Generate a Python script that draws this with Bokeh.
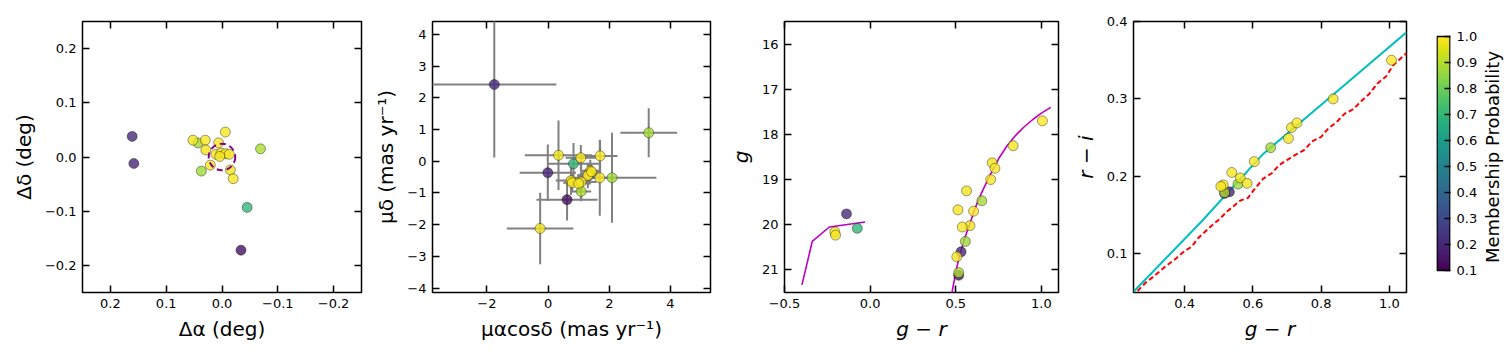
import numpy as np
from bokeh.plotting import figure
from bokeh.layouts import row
from bokeh.models import (ColumnDataSource, LinearColorMapper, Range1d, FixedTicker,
                          LinearAxis, CustomJSTickFormatter)
from bokeh.palettes import Viridis256
from bokeh.embed import file_html
from bokeh.resources import INLINE

# ---------------- data (one entry per star) ----------------
d_ra = [0.161, 0.158, -0.034, -0.045, 0.043, 0.037, -0.069,
        0.052, 0.030, 0.006, -0.006, 0.029, 0.011, 0.002, -0.006, -0.013, 0.021, -0.015, -0.020, 0.004]
d_dec = [0.038, -0.012, -0.172, -0.093, 0.026, -0.026, 0.015,
         0.031, 0.031, 0.026, 0.046, 0.013, 0.005, 0.007, 0.006, 0.005, -0.015, -0.024, -0.040, 0.001]
pmra = [-1.76, -0.01, 0.62, 0.83, 3.29, 2.09, 1.08,
        0.34, 1.07, 1.70, 1.38, 1.34, 1.30, 1.69, 0.75, 0.79, 1.08, -0.26, 1.00, 1.42]
pmdec = [2.42, -0.36, -1.21, -0.08, 0.90, -0.52, -0.95,
         0.19, 0.11, 0.17, -0.30, -0.40, -0.45, -0.52, -0.61, -0.68, -0.65, -2.12, -0.70, -0.33]
pmra_err = [2.03, 0.92, 1.00, 0.85, 0.93, 1.45, 0.33,
            1.10, 0.50, 0.57, 0.30, 0.30, 0.35, 0.50, 0.50, 0.30, 0.50, 1.09, 0.40, 0.30]
pmdec_err = [2.30, 0.89, 0.66, 0.66, 0.77, 1.42, 0.31,
             1.10, 0.40, 0.50, 0.35, 0.30, 0.40, 1.20, 0.45, 0.30, 0.60, 1.13, 0.30, 0.25]
g_mag = [19.76, 20.60, 21.12, 20.08, 19.47, 20.37, 21.06,
         20.16, 20.23, 17.70, 18.25, 18.63, 18.75, 19.00, 19.25, 19.67, 19.70, 20.02, 20.05, 20.71]
g_r = [-0.138, 0.531, 0.517, -0.075, 0.652, 0.556, 0.517,
       -0.206, -0.202, 1.006, 0.835, 0.713, 0.729, 0.704, 0.563, 0.513, 0.604, 0.583, 0.538, 0.506]
r_i = [float("nan"), 0.180, 0.178, float("nan"), 0.237, 0.190, 0.179,
       float("nan"), float("nan"), 0.350, 0.300, 0.263, 0.269, 0.249, 0.198, 0.189, 0.219, 0.191, 0.205, 0.187]
prob = [0.21, 0.20, 0.14, 0.70, 0.88, 0.87, 0.89,
        0.98, 0.99, 1.00, 0.99, 0.98, 1.00, 0.99, 0.98, 0.99, 1.00, 0.98, 0.99, 0.99]

# half-light radius circle (deg)
r_half = 0.0245

# isochrone branches (g-r, g)
iso_hb_gr = [-0.398, -0.338, -0.238, -0.029]
iso_hb_g = [21.33, 20.37, 20.05, 19.94]
iso_rgb_gr = [0.470, 0.478, 0.500, 0.520, 0.550, 0.583, 0.610, 0.650, 0.700, 0.750,
              0.800, 0.850, 0.900, 0.950, 1.000, 1.055]
iso_rgb_g = [21.70, 21.50, 21.05, 20.72, 20.32, 19.98, 19.66, 19.30, 18.90, 18.54,
             18.25, 18.02, 17.83, 17.67, 17.53, 17.40]

# colour-colour loci (g-r, r-i)
locus_cyan_gr = [0.250, 0.450, 0.630, 0.834, 1.050]
locus_cyan_ri = [0.051, 0.142, 0.229, 0.305, 0.386]
locus_red_gr = [0.262, 0.286, 0.310, 0.339, 0.372, 0.401, 0.420, 0.439, 0.478, 0.500, 0.525,
                0.564, 0.585, 0.602, 0.630, 0.655, 0.678, 0.725, 0.750, 0.773, 0.800, 0.821,
                0.845, 0.869, 0.895, 0.917, 0.940, 0.965, 0.990, 1.012, 1.050]
locus_red_ri = [0.052, 0.063, 0.071, 0.082, 0.093, 0.104, 0.109, 0.120, 0.136, 0.144, 0.155,
                0.169, 0.172, 0.182, 0.197, 0.204, 0.215, 0.228, 0.234, 0.245, 0.251, 0.262,
                0.270, 0.281, 0.287, 0.297, 0.306, 0.320, 0.329, 0.344, 0.359]

# ticks
ticks_deg = [-0.2, -0.1, 0.0, 0.1, 0.2]
ticks_pmx = [-2, 0, 2, 4]
ticks_pmy = [-4, -3, -2, -1, 0, 1, 2, 3, 4]
ticks_cmd_x = [-0.5, 0.0, 0.5, 1.0]
ticks_cmd_y = [16, 17, 18, 19, 20, 21]
ticks_cc_x = [0.4, 0.6, 0.8, 1.0]
ticks_cc_y = [0.1, 0.2, 0.3, 0.4]
ticks_cbar = [0.1, 0.2, 0.3, 0.4, 0.5, 0.6, 0.7, 0.8, 0.9, 1.0]
prob_low, prob_high = 0.1, 1.0

# ---------------- plotting ----------------
FONT = "DejaVu Sans"
H = 350
TOP = 21
BOTTOM = H - 292
mapper = LinearColorMapper(palette=Viridis256, low=prob_low, high=prob_high)

pmra_a = np.array(pmra)
pmdec_a = np.array(pmdec)
src = ColumnDataSource(dict(
    ra=d_ra, dec=d_dec, pmra=pmra, pmdec=pmdec,
    pmra_lo=pmra_a - np.array(pmra_err), pmra_hi=pmra_a + np.array(pmra_err),
    pmdec_lo=pmdec_a - np.array(pmdec_err), pmdec_hi=pmdec_a + np.array(pmdec_err),
    g=g_mag, gr=g_r, ri=r_i, prob=prob))


def fmt(n):
    return CustomJSTickFormatter(code="return tick.toFixed(%d).replace('-', '\u2212');" % n)


def style_axis(ax, ticks, decimals, label="", italic=False, show=True):
    ax.ticker = FixedTicker(ticks=ticks)
    ax.axis_line_color = None
    ax.major_tick_in = 7
    ax.major_tick_out = 0
    ax.major_tick_line_width = 1.5
    ax.major_tick_line_color = "black"
    ax.minor_tick_line_color = None
    ax.major_label_text_font = FONT
    ax.major_label_text_color = "black"
    ax.major_label_text_font_size = "13px"
    if show:
        ax.formatter = fmt(decimals)
        ax.major_label_standoff = 6
        ax.axis_label = label
        ax.axis_label_text_font = FONT
        ax.axis_label_text_font_size = "20px"
        ax.axis_label_text_color = "black"
        ax.axis_label_text_font_style = "italic" if italic else "normal"
        ax.axis_label_standoff = 6
    else:
        ax.formatter = CustomJSTickFormatter(code="return '';")
        ax.major_label_standoff = 0


def make_fig(width, left, right, xr, yr, xt, yt, xd, yd, xlabel, ylabel, italic):
    p = figure(width=width, height=H, x_range=xr, y_range=yr,
               output_backend="svg", toolbar_location=None,
               min_border_left=left, min_border_right=right,
               min_border_top=TOP, min_border_bottom=BOTTOM)
    p.grid.visible = False
    p.outline_line_color = "black"
    p.outline_line_width = 1.5
    p.outline_line_alpha = 1.0
    p.background_fill_color = "white"
    p.border_fill_color = "white"
    style_axis(p.xaxis[0], xt, xd, xlabel, italic)
    style_axis(p.yaxis[0], yt, yd, ylabel, italic)
    top = LinearAxis()
    style_axis(top, xt, xd, show=False)
    p.add_layout(top, "above")
    rgt = LinearAxis()
    style_axis(rgt, yt, yd, show=False)
    p.add_layout(rgt, "right")
    return p


def add_points(p, x, y):
    p.scatter(x=x, y=y, source=src, size=10,
              fill_color={"field": "prob", "transform": mapper}, fill_alpha=0.8,
              line_color="black", line_alpha=0.55, line_width=0.7)


# Panel 1: sky positions
p1 = make_fig(371, 82, 10, Range1d(0.25, -0.25), Range1d(-0.25, 0.25),
              ticks_deg, ticks_deg, 1, 1, "Δα (deg)", "Δδ (deg)", False)
add_points(p1, "ra", "dec")
p1.circle(x=[0.0], y=[0.0], radius=r_half, radius_dimension="y",
          fill_color=None, line_color="#800080", line_dash="6 4", line_width=2)

# Panel 2: proper motions
p2 = make_fig(354, 60, 15, Range1d(-3.78, 5.31), Range1d(-4.14, 4.41),
              ticks_pmx, ticks_pmy, 0, 0, "μαcosδ (mas yr⁻¹)", "μδ (mas yr⁻¹)", False)
p2.segment(x0="pmra_lo", y0="pmdec", x1="pmra_hi", y1="pmdec", source=src,
           line_color="#808080", line_width=2)
p2.segment(x0="pmra", y0="pmdec_lo", x1="pmra", y1="pmdec_hi", source=src,
           line_color="#808080", line_width=2)
add_points(p2, "pmra", "pmdec")

# Panel 3: CMD
p3 = make_fig(345, 54, 12, Range1d(-0.5, 1.1), Range1d(21.5, 15.5),
              ticks_cmd_x, ticks_cmd_y, 1, 0, "g − r", "g", True)
p3.line(iso_hb_gr, iso_hb_g, line_color="#bf00bf", line_width=1.6)
p3.line(iso_rgb_gr, iso_rgb_g, line_color="#bf00bf", line_width=1.6)
add_points(p3, "gr", "g")

# Panel 4: colour-colour
p4 = make_fig(356, 58, 20, Range1d(0.25, 1.05), Range1d(0.05, 0.4),
              ticks_cc_x, ticks_cc_y, 1, 1, "g − r", "r − i", True)
p4.line(locus_cyan_gr, locus_cyan_ri, line_color="#00bfbf", line_width=2)
p4.line(locus_red_gr, locus_red_ri, line_color="#ff0000", line_width=2, line_dash="5 3")
add_points(p4, "gr", "ri")

# Colour bar (its frame spans the same height as the panels; the bar covers 0.1-1.0)
pc = figure(width=54, height=H, x_range=Range1d(-0.04, 1.04), y_range=Range1d(0.0154, 1.0577),
            output_backend="svg", toolbar_location=None,
            min_border_left=10, min_border_right=28, min_border_top=TOP, min_border_bottom=BOTTOM,
            x_axis_location=None, y_axis_location=None)
pc.grid.visible = False
pc.outline_line_color = None
pc.background_fill_color = "white"
pc.border_fill_color = "white"
pc.image(image=[np.linspace(prob_low, prob_high, 256).reshape(256, 1)],
         x=0, y=prob_low, dw=1, dh=prob_high - prob_low, color_mapper=mapper)
pc.quad(left=[0], right=[1], bottom=[prob_low], top=[prob_high],
        fill_color=None, line_color="black", line_width=1.5)
cax = LinearAxis()
style_axis(cax, ticks_cbar, 1, "", False)
cax.major_tick_in = 6
pc.add_layout(cax, "right")

# Colour-bar title, carried by the left axis of a thin companion figure (reads bottom-to-top)
pl = figure(width=30, height=H, x_range=Range1d(0, 1), y_range=Range1d(0.0154, 1.0577),
            output_backend="svg", toolbar_location=None,
            min_border_left=27, min_border_right=1, min_border_top=TOP, min_border_bottom=BOTTOM,
            x_axis_location=None, y_axis_location=None)
pl.grid.visible = False
pl.outline_line_color = None
pl.background_fill_color = "white"
pl.border_fill_color = "white"
lax = LinearAxis(ticker=FixedTicker(ticks=[]), axis_line_color=None,
                 major_tick_in=0, major_tick_out=0, minor_tick_line_color=None,
                 major_label_standoff=0, axis_label="Membership Probability",
                 axis_label_text_font=FONT, axis_label_text_font_size="18px",
                 axis_label_text_font_style="normal", axis_label_text_color="black",
                 axis_label_standoff=7)
pl.add_layout(lax, "left")

layout = row(p1, p2, p3, p4, pc, pl)
open("out.html", "w").write(file_html(layout, INLINE, title="Membership diagnostics"))
